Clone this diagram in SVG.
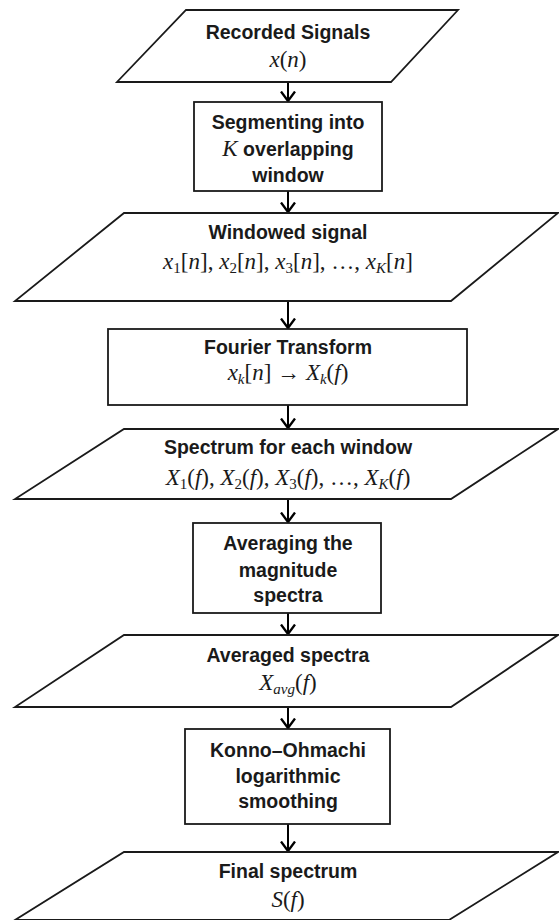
<svg xmlns="http://www.w3.org/2000/svg" width="559" height="920" viewBox="0 0 559 920">
<style>
.shape{fill:#fff;stroke:#1a1a1a;stroke-width:1.8}
.lbl{font-family:"Liberation Sans",Arial,sans-serif;font-weight:bold;font-size:19.5px;fill:#1a1a1a;text-anchor:middle}
.math{font-family:"Liberation Serif","DejaVu Serif",serif;font-size:23px;fill:#1a1a1a;text-anchor:middle}
.it{font-style:italic}
.sub{font-size:15px}
.conn{stroke:#000;stroke-width:2;fill:none}
</style>
<defs>
<marker id="arr" viewBox="-1 -8 12 16" markerWidth="12" markerHeight="16" refX="9.5" refY="0" orient="auto" markerUnits="userSpaceOnUse">
<path d="M0,-7 L9.5,0 L0,7" fill="none" stroke="#000" stroke-width="2.3"/>
</marker>
</defs>
<rect width="559" height="920" fill="#fff"/>
<g id="connectors">
<line class="conn" x1="288" y1="82" x2="288" y2="101" marker-end="url(#arr)"/>
<line class="conn" x1="288" y1="191" x2="288" y2="212" marker-end="url(#arr)"/>
<line class="conn" x1="288" y1="301" x2="288" y2="328" marker-end="url(#arr)"/>
<line class="conn" x1="288" y1="405" x2="288" y2="428" marker-end="url(#arr)"/>
<line class="conn" x1="288" y1="499" x2="288" y2="522" marker-end="url(#arr)"/>
<line class="conn" x1="288" y1="613" x2="288" y2="634" marker-end="url(#arr)"/>
<line class="conn" x1="288" y1="707" x2="288" y2="728" marker-end="url(#arr)"/>
<line class="conn" x1="288" y1="824" x2="288" y2="851" marker-end="url(#arr)"/>
</g>
<g id="recorded">
<polygon class="shape" points="186,10 458,10 391,82 117,82"/>
<text class="lbl" x="288" y="39">Recorded Signals</text>
<text class="math" x="288" y="67"><tspan class="it">x</tspan>(<tspan class="it">n</tspan>)</text>
</g>
<g id="segmenting">
<rect class="shape" x="194" y="102" width="188" height="89"/>
<text class="lbl" x="288" y="129">Segmenting into</text>
<text class="lbl" x="288" y="156"><tspan class="it" style="font-family:'Liberation Serif',serif;font-weight:normal;font-size:23px">K</tspan> overlapping</text>
<text class="lbl" x="288" y="182">window</text>
</g>
<g id="windowed">
<polygon class="shape" points="124,213 558,213 451,301 15,301"/>
<text class="lbl" x="288" y="239">Windowed signal</text>
<text class="math" x="288" y="269"><tspan class="it">x</tspan><tspan class="sub" dy="4">1</tspan><tspan dy="-4">[</tspan><tspan class="it">n</tspan>], <tspan class="it">x</tspan><tspan class="sub" dy="4">2</tspan><tspan dy="-4">[</tspan><tspan class="it">n</tspan>], <tspan class="it">x</tspan><tspan class="sub" dy="4">3</tspan><tspan dy="-4">[</tspan><tspan class="it">n</tspan>], …, <tspan class="it">x</tspan><tspan class="sub it" dy="4">K</tspan><tspan dy="-4">[</tspan><tspan class="it">n</tspan>]</text>
</g>
<g id="fourier">
<rect class="shape" x="108" y="329" width="359" height="76"/>
<text class="lbl" x="288" y="354">Fourier Transform</text>
<text class="math" x="288" y="380"><tspan class="it">x</tspan><tspan class="sub it" dy="4">k</tspan><tspan dy="-4">[</tspan><tspan class="it">n</tspan>] → <tspan class="it">X</tspan><tspan class="sub it" dy="4">k</tspan><tspan dy="-4">(</tspan><tspan class="it">f</tspan>)</text>
</g>
<g id="spectrum">
<polygon class="shape" points="124,429 558,429 451,499 15,499"/>
<text class="lbl" x="288" y="454">Spectrum for each window</text>
<text class="math" x="288" y="485"><tspan class="it">X</tspan><tspan class="sub" dy="4">1</tspan><tspan dy="-4">(</tspan><tspan class="it">f</tspan>), <tspan class="it">X</tspan><tspan class="sub" dy="4">2</tspan><tspan dy="-4">(</tspan><tspan class="it">f</tspan>), <tspan class="it">X</tspan><tspan class="sub" dy="4">3</tspan><tspan dy="-4">(</tspan><tspan class="it">f</tspan>), …, <tspan class="it">X</tspan><tspan class="sub it" dy="4">K</tspan><tspan dy="-4">(</tspan><tspan class="it">f</tspan>)</text>
</g>
<g id="averaging">
<rect class="shape" x="193" y="523" width="188" height="90"/>
<text class="lbl" x="288" y="550">Averaging the</text>
<text class="lbl" x="288" y="577">magnitude</text>
<text class="lbl" x="288" y="602">spectra</text>
</g>
<g id="averaged">
<polygon class="shape" points="124,635 558,635 451,707 15,707"/>
<text class="lbl" x="288" y="662">Averaged spectra</text>
<text class="math" x="288" y="690"><tspan class="it">X</tspan><tspan class="sub it" dy="4">avg</tspan><tspan dy="-4">(</tspan><tspan class="it">f</tspan>)</text>
</g>
<g id="konno">
<rect class="shape" x="185" y="729" width="205" height="95"/>
<text class="lbl" x="288" y="757">Konno–Ohmachi</text>
<text class="lbl" x="288" y="783">logarithmic</text>
<text class="lbl" x="288" y="808">smoothing</text>
</g>
<g id="final">
<polygon class="shape" points="124,852 558,852 449,920 15,920"/>
<text class="lbl" x="288" y="878">Final spectrum</text>
<text class="math" x="288" y="907"><tspan class="it">S</tspan>(<tspan class="it">f</tspan>)</text>
</g>
</svg>
